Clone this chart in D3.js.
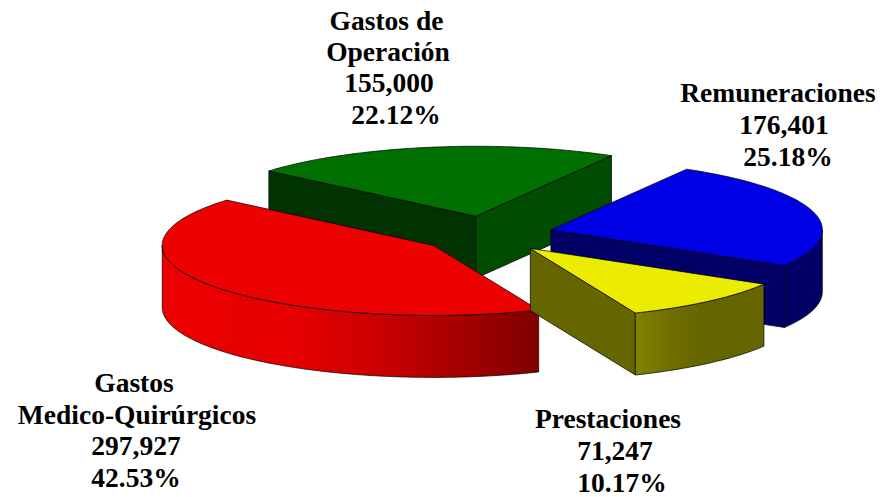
<!DOCTYPE html>
<html><head><meta charset="utf-8">
<style>html,body{margin:0;padding:0;background:#fff}svg{display:block}
text{font-family:"Liberation Serif",serif;font-weight:bold;font-size:27.5px;fill:#000;text-anchor:middle}</style>
<script src="https://cdn.jsdelivr.net/npm/d3@7"></script></head><body>
<svg id="c" width="896" height="497"></svg>
<script>
const categories = ["Remuneraciones","Prestaciones","Gastos Medico-Quirúrgicos","Gastos de Operación"];
const values = [176401,71247,297927,155000];
const labelLines = [["Remuneraciones"],["Prestaciones"],["Gastos","Medico-Quirúrgicos"],["Gastos de","Operación"]];
const topColors = ["#0000e6","#ecec00","#ec0000","#007000"];
const startWallColors = ["#000066","#666600","#800000","#003300"];
const endWallColors = ["#000066","#666600","#800000","#004c00"];
const drawOrder = [3,0,2,1];
// layout
const W=896,H=497,cx=487,cy=234.5,rx=271.5,ry=70,depth=62,exX=66,exY=18.5;
const labelX=[[778,784,788],[608,615,622],[134,137,136,136],[386.5,388,389,396]];
const labelY=[[102,134,166],[428,460,492],[392,424,455,487],[30,61,92,124]];
const svg=d3.select("#c");
const defs=svg.append("defs");
function grad(id,stops,x1,x2){
  const g=defs.append("linearGradient").attr("id",id).attr("gradientUnits","userSpaceOnUse")
    .attr("x1",x1).attr("x2",x2).attr("y1",0).attr("y2",0);
  stops.forEach(s=>g.append("stop").attr("offset",s[0]).attr("stop-color",s[1]));
}
grad("gr",[[0,"#ec0000"],[.35,"#e60000"],[.6,"#c80000"],[1,"#800000"]],161,537);
grad("gy",[[0,"#808000"],[.3,"#6e6e00"],[.5,"#666600"],[1,"#666600"]],636,763);
const outerFill=["#000066","url(#gy)","url(#gr)","#000"];
const arcs=d3.pie().sort(null).startAngle(Math.PI/6).endAngle(Math.PI/6+2*Math.PI)(values);
const total=d3.sum(values);
const toE=a=>a-Math.PI/2;           // pie angle (0 = north) to screen angle (0 = east)
const xS=d3.scaleLinear().domain([-1,1]).range([-rx,rx]);
const yS=d3.scaleLinear().domain([-1,1]).range([-ry,ry]);
const line=d3.line();
function arcPts(ox,oy,a0,a1,dy){
  const n=Math.max(2,Math.ceil(Math.abs(a1-a0)/0.02)),p=[];
  d3.range(n+1).forEach(i=>{const t=a0+(a1-a0)*i/n;p.push([ox+xS(Math.cos(t)),oy+yS(Math.sin(t))+dy]);});
  return p;
}
const g=svg.append("g");
drawOrder.forEach(i=>{
  const d=arcs[i],a0=toE(d.startAngle),a1=toE(d.endAngle),m=(a0+a1)/2;
  const ox=cx+exX*Math.cos(m),oy=cy+exY*Math.sin(m);
  const sl=g.append("g").attr("class","slice");
  const wall=(a,fill)=>{
    const e=[ox+xS(Math.cos(a)),oy+yS(Math.sin(a))];
    sl.append("path").attr("d",line([[ox,oy],e,[e[0],e[1]+depth],[ox,oy+depth]])+"Z")
      .attr("fill",fill).attr("stroke","#000").attr("stroke-width",.7);
  };
  if(Math.cos(a0)<0) wall(a0,startWallColors[i]);
  if(Math.cos(a1)>0) wall(a1,endWallColors[i]);
  // visible part of the outer wall: screen angles 0..180 degrees (and their 2pi repeats)
  [0,2*Math.PI].forEach(k=>{
    const s=Math.max(a0,k),e=Math.min(a1,k+Math.PI);
    if(e>s){
      const top=arcPts(ox,oy,s,e,0),bot=arcPts(ox,oy,e,s,depth);
      sl.append("path").attr("d",line(top.concat(bot))+"Z").attr("fill",outerFill[i])
        .attr("stroke","#000").attr("stroke-width",.7);
    }
  });
  sl.append("path").attr("d",line([[ox,oy]].concat(arcPts(ox,oy,a0,a1,0)))+"Z")
    .attr("fill",topColors[i]).attr("stroke","#000").attr("stroke-width",.7).attr("stroke-linejoin","round");
});
const fmtV=d3.format(","),fmtP=d3.format(".2%");
categories.forEach((c,i)=>{
  const lines=labelLines[i].concat([fmtV(values[i]),fmtP(values[i]/total)]);
  const t=svg.append("g").attr("class","label");
  lines.forEach((s,j)=>t.append("text").attr("x",labelX[i][j]).attr("y",labelY[i][j]).text(s));
});
</script></body></html>
